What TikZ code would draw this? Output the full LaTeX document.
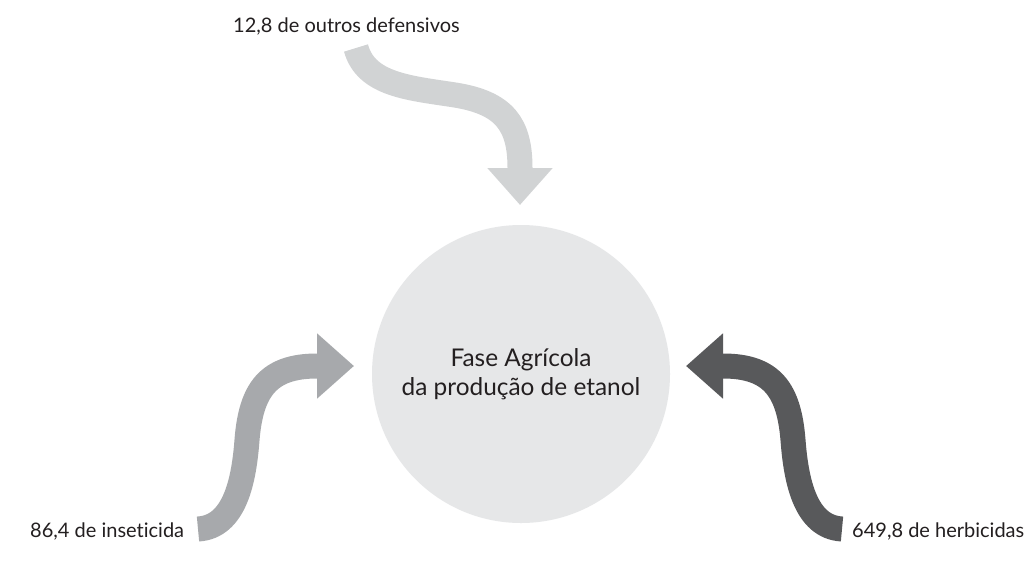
\documentclass[tikz,border=0pt]{standalone}
\usepackage{fontspec}
\setmainfont[Ligatures=NoCommon]{Lato}
\usetikzlibrary{arrows.meta}
\definecolor{circlegray}{HTML}{E6E7E8}
\definecolor{lightarrow}{HTML}{D1D3D4}
\definecolor{midarrow}{HTML}{A7A9AC}
\definecolor{darkarrow}{HTML}{58595B}
\definecolor{textcol}{HTML}{231F20}
\tikzset{
  band/.style={line width=25pt, line cap=butt, -{Triangle[width=63pt,length=37pt]}},
  lab/.style={font=\fontsize{20}{22}\selectfont, text=textcol, inner sep=0pt, anchor=base west},
}
\begin{document}
\begin{tikzpicture}[x=1pt,y=-1pt]
\useasboundingbox (0,0) rectangle (1024,576);
\fill[white] (0,0) rectangle (1024,576);
\node[circle, fill=circlegray, minimum size=298pt, inner sep=0pt] (c) at (521,374) {};
\node[font=\fontsize{24.4}{29}\selectfont, text=textcol, align=center, anchor=base, inner sep=0pt] (t) at (521,395) {Fase Agrícola\\da produção de etanol};
\node[lab] (l1) at (233,32) {12,8 de outros defensivos};
\node[lab] (l2) at (30,537) {86,4 de inseticida};
\node[lab] (l3) at (852,537) {649,8 de herbicidas};
\coordinate (s1) at (356,48);
\coordinate (e1) at (520,205);
\coordinate (s2) at (198,529);
\coordinate (e2) at (354,366);
\coordinate (s3) at (842,529);
\coordinate (e3) at (686,366);
\draw[band, lightarrow] (s1) .. controls (366,85) and (410,88) .. (455,95) .. controls (505,103) and (520,125) .. (520,168) -- (e1);
\draw[band, midarrow] (s2) .. controls (235,527) and (244,480) .. (247,440) .. controls (251,390) and (268,366) .. (317,366) -- (e2);
\draw[band, darkarrow] (s3) .. controls (805,527) and (796,480) .. (793,440) .. controls (789,390) and (772,366) .. (723,366) -- (e3);
\end{tikzpicture}
\end{document}
